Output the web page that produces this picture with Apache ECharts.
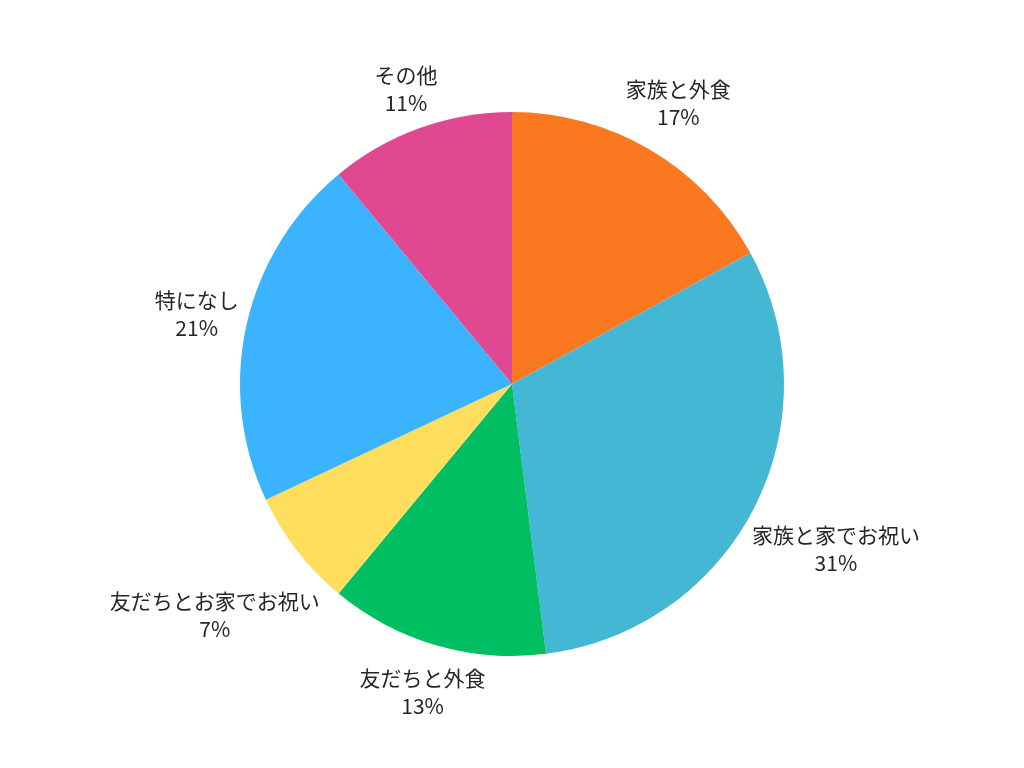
<!DOCTYPE html>
<html>
<head>
<meta charset="utf-8">
<script src="https://cdn.jsdelivr.net/npm/echarts@6/dist/echarts.min.js"></script>
<style>
html,body{margin:0;padding:0;background:#fff;}
#main{width:1024px;height:768px;}
</style>
</head>
<body>
<div id="main"></div>
<script>
const categories = ['家族と外食', '家族と家でお祝い', '友だちと外食', '友だちとお家でお祝い', '特になし', 'その他'];
const values = [17, 31, 13, 7, 21, 11];
const colors = ['#FA7820', '#43B7D4', '#00BF63', '#FFDE5D', '#3CB3FE', '#E04891'];

const chart = echarts.init(document.getElementById('main'));
const R = 272;
const total = values.reduce((a, b) => a + b, 0);

function midAngle(i) {
  let cum = 0;
  for (let k = 0; k < i; k++) cum += values[k];
  return (cum + values[i] / 2) / total * 2 * Math.PI; // from top, clockwise
}

chart.setOption({
  backgroundColor: '#ffffff',
  series: [{
    type: 'pie',
    center: ['50%', '50%'],
    radius: R,
    startAngle: 90,
    clockwise: true,
    avoidLabelOverlap: false,
    animation: false,
    data: categories.map((c, i) => ({ name: c, value: values[i], itemStyle: { color: colors[i] } })),
    itemStyle: { borderWidth: 0 },
    label: {
      show: true,
      position: 'outside',
      formatter: p => p.name + '\n' + Math.round(p.percent) + '%',
      fontFamily: 'Noto Sans CJK JP',
      fontSize: 21,
      lineHeight: 28,
      color: '#262626'
    },
    labelLine: { show: false },
    labelLayout: function (params) {
      const cx = chart.getWidth() / 2, cy = chart.getHeight() / 2;
      const a = midAngle(params.dataIndex);
      const ux = Math.sin(a), uy = -Math.cos(a);
      const w = params.labelRect.width / 2, h = params.labelRect.height / 2;
      const D = R + 4 + w * Math.abs(ux) + h * Math.abs(uy);
      return { x: cx + D * ux, y: cy + D * uy, align: 'center', verticalAlign: 'middle' };
    }
  }]
});
</script>
</body>
</html>
